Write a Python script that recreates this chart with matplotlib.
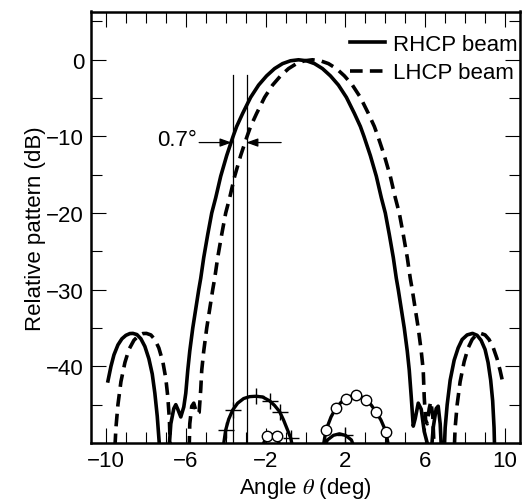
import numpy as np
import matplotlib
matplotlib.use("Agg")
from matplotlib import pyplot as plt
from matplotlib.ticker import MultipleLocator, FixedLocator

plt.rcParams['font.family'] = ['Liberation Sans', 'DejaVu Sans']
plt.rcParams['mathtext.fontset'] = 'stix'
FS = 16

## Co-polar beams (angle in deg, relative pattern in dB)
rhcp_ang = [-9.9, -9.75, -9.6, -9.4, -9.2, -9.0, -8.8, -8.65, -8.45, -8.25, -8.05,
            -7.85, -7.68, -7.55, -7.43, -7.33, -7.25,
            -6.9, -6.75, -6.6, -6.5, -6.4, -6.25, -6.1, -6.0,
            -5.9, -5.8, -5.65, -5.5, -5.35, -5.25, -5.1, -4.9, -4.7, -4.5, -4.25,
            -3.95, -3.63, -3.45, -3.15, -2.75, -2.35, -1.95, -1.55, -1.15, -0.75, -0.35,
            0.05, 0.45, 0.85, 1.25, 1.65, 2.05, 2.45, 2.75, 2.93, 3.25, 3.55,
            3.8, 4.0, 4.2, 4.4, 4.55, 4.65, 4.8, 4.95, 5.1, 5.2,
            5.3, 5.4, 5.5, 5.65, 5.8, 5.95, 6.1, 6.25, 6.4, 6.55, 6.65, 6.75, 6.85,
            6.92, 7.0, 7.1, 7.25, 7.45, 7.65, 7.85, 8.1, 8.37, 8.6, 8.8, 9.0,
            9.15, 9.28, 9.38, 9.45, 9.5]
rhcp_db = [-41.9, -40.0, -38.5, -37.2, -36.4, -35.95, -35.72, -35.7, -35.85, -36.4, -37.4,
           -39.0, -41.0, -43.5, -46.5, -50.0, -53.0,
           -53.0, -47.5, -45.5, -45.0, -45.6, -46.6, -45.3, -43.5,
           -40.5, -38.0, -35.0, -32.5, -30.0, -28.5, -25.8, -22.8, -20.0, -18.0, -15.2,
           -12.5, -10.0, -8.7, -7.0, -4.9, -3.3, -2.1, -1.15, -0.5, -0.13, 0.0,
           -0.13, -0.5, -1.15, -2.1, -3.3, -4.9, -7.0, -8.7, -10.0, -12.5, -15.2,
           -18.0, -20.0, -22.8, -25.8, -28.5, -30.0, -32.5, -35.0, -38.0, -40.5,
           -44.0, -47.8, -46.8, -44.8, -45.6, -48.5, -50.0, -53.0, -48.0, -45.5, -45.2, -47.5, -53.0,
           -53.0, -48.0, -45.0, -41.8, -39.2, -37.6, -36.5, -35.9, -35.7, -35.95, -36.6, -37.8,
           -39.5, -41.8, -44.5, -48.0, -53.0]

lhcp_ang = [-9.6, -9.5, -9.4, -9.25, -9.05, -8.85, -8.6, -8.35, -8.15, -7.97, -7.75,
            -7.55, -7.35, -7.15, -7.0, -6.9, -6.82, -6.75,
            -5.85, -5.8, -5.7, -5.6, -5.45, -5.33, -5.25,
            -5.2, -5.1, -4.95, -4.8, -4.65, -4.55, -4.4, -4.2, -4.0, -3.8, -3.55,
            -3.25, -2.93, -2.75, -2.45, -2.05, -1.65, -1.25, -0.85, -0.45, -0.05, 0.35,
            0.75, 1.15, 1.55, 1.95, 2.35, 2.75, 3.15, 3.45, 3.63, 3.95, 4.25,
            4.5, 4.7, 4.9, 5.1, 5.25, 5.35, 5.5, 5.65, 5.8, 5.9,
            5.95, 6.02, 6.1, 6.2, 6.28, 6.38, 6.48,
            7.42, 7.5, 7.6, 7.75, 7.95, 8.15, 8.35, 8.55, 8.78, 9.0, 9.2,
            9.4, 9.6, 9.75, 9.87]
lhcp_db = [-53.0, -48.0, -45.0, -42.0, -39.5, -37.8, -36.6, -35.95, -35.72, -35.7, -35.9,
           -36.5, -37.6, -39.4, -41.6, -44.0, -47.0, -53.0,
           -53.0, -47.5, -45.2, -44.8, -46.2, -46.0, -43.0,
           -40.5, -38.0, -35.0, -32.5, -30.0, -28.5, -25.8, -22.8, -20.0, -18.0, -15.2,
           -12.5, -10.0, -8.7, -7.0, -4.9, -3.3, -2.1, -1.15, -0.5, -0.13, 0.0,
           -0.13, -0.5, -1.15, -2.1, -3.3, -4.9, -7.0, -8.7, -10.0, -12.5, -15.2,
           -18.0, -20.0, -22.8, -25.8, -28.5, -30.0, -32.5, -35.0, -38.0, -40.5,
           -44.0, -47.0, -47.5, -45.5, -44.6, -46.5, -53.0,
           -53.0, -48.0, -45.0, -42.0, -39.4, -37.6, -36.5, -35.9, -35.7, -35.9, -36.5,
           -37.5, -39.0, -40.5, -41.9]

## Cross-polar lobes near the floor
xr_ang = [-4.15, -4.0, -3.85, -3.65, -3.4, -3.1, -2.8, -2.47, -2.15, -1.8, -1.55,
          -1.3, -1.1, -0.9, -0.75, -0.6]
xr_db = [-51.0, -48.3, -46.9, -45.7, -44.8, -44.2, -43.95, -43.9, -44.0, -44.5, -45.1,
         -45.9, -47.0, -48.3, -49.3, -51.0]
xr2_ang = [0.85, 1.1, 1.4, 1.7, 2.0, 2.3, 2.5]
xr2_db = [-51.0, -49.6, -49.0, -48.8, -49.0, -49.6, -51.0]

xl_ang = [0.85, 1.03, 1.28, 1.53, 1.78, 2.03, 2.28, 2.53, 2.78, 3.03, 3.28, 3.53,
          3.78, 4.03, 4.2]
xl_db = [-51.0, -48.3, -46.6, -45.4, -44.7, -44.2, -43.9, -43.8, -43.95, -44.4, -45.0,
         -45.9, -47.0, -48.5, -51.0]
xl2_ang = [-2.25, -1.95, -1.7, -1.45, -1.2]
xl2_db = [-51.0, -49.1, -48.9, -49.1, -51.0]

## 0.7 deg offset marker
sep_lines = [-3.65, -2.95]

fig = plt.figure(figsize=(5.22, 5.02), dpi=100)
ax = fig.add_axes([91/522, 58/502, 429/522, 431.5/502])

ax.plot(rhcp_ang, rhcp_db, color='k', lw=2.6, label='RHCP beam')
ax.plot(lhcp_ang, lhcp_db, color='k', lw=2.6, dashes=(3.5, 2.0), label='LHCP beam')

ax.plot(xr_ang, xr_db, color='k', lw=2.4, marker='+', ms=11, mew=1.0,
        markevery=[1, 3, 7, 9, 11, 14])
ax.plot(xr2_ang, xr2_db, color='k', lw=2.4, marker='+', ms=11, mew=1.0, markevery=[4])
ax.plot(xl_ang, xl_db, color='k', lw=2.4, marker='o', ms=7.5, mfc='white', mec='k',
        mew=1.0, markevery=[1, 3, 5, 7, 9, 11, 13])
ax.plot(xl2_ang, xl2_db, color='k', lw=2.4, marker='o', ms=7.5, mfc='white', mec='k',
        mew=1.0, markevery=[1, 3])

for xv in sep_lines:
    ax.plot([xv, xv], [-50, -2.0], color='k', lw=0.9)

arrow_y = -10.8
ax.annotate('', xy=(sep_lines[0] - 0.05, arrow_y), xytext=(-5.33, arrow_y),
            arrowprops=dict(arrowstyle='-|>,head_length=0.7,head_width=0.25',
                            color='k', lw=0.9, shrinkA=0, shrinkB=0))
ax.annotate('', xy=(sep_lines[1] - 0.02, arrow_y), xytext=(-1.22, arrow_y),
            arrowprops=dict(arrowstyle='-|>,head_length=0.7,head_width=0.25',
                            color='k', lw=0.9, shrinkA=0, shrinkB=0))
ax.text(-5.42, -10.4, '0.7°', ha='right', va='center', fontsize=FS)

ax.set_xlim(-10.75, 10.75)
ax.set_ylim(-50, 6.3)
ax.xaxis.set_major_locator(FixedLocator([-10, -6, -2, 2, 6, 10]))
ax.xaxis.set_minor_locator(MultipleLocator(1))
ax.yaxis.set_minor_locator(MultipleLocator(5))
ax.set_yticks([0, -10, -20, -30, -40])

ax.tick_params(which='both', direction='in', top=True, right=True, width=0.8,
               labelsize=FS)
ax.tick_params(which='major', length=11)
ax.tick_params(which='minor', length=8)
ax.tick_params(axis='y', pad=5)
ax.tick_params(axis='x', pad=5)
for sp in ax.spines.values():
    sp.set_linewidth(1.8)

ax.set_xlabel('Angle $\\theta$ (deg)', fontsize=FS, labelpad=3)
ax.set_ylabel('Relative pattern (dB)', fontsize=FS, labelpad=0)

ax.legend(loc='upper right', bbox_to_anchor=(1.0, 0.953), frameon=False, fontsize=FS,
          handlelength=1.6, handletextpad=0.35, labelspacing=0.33,
          borderaxespad=0.0, borderpad=0.1)

plt.savefig('out.png', dpi=100)
